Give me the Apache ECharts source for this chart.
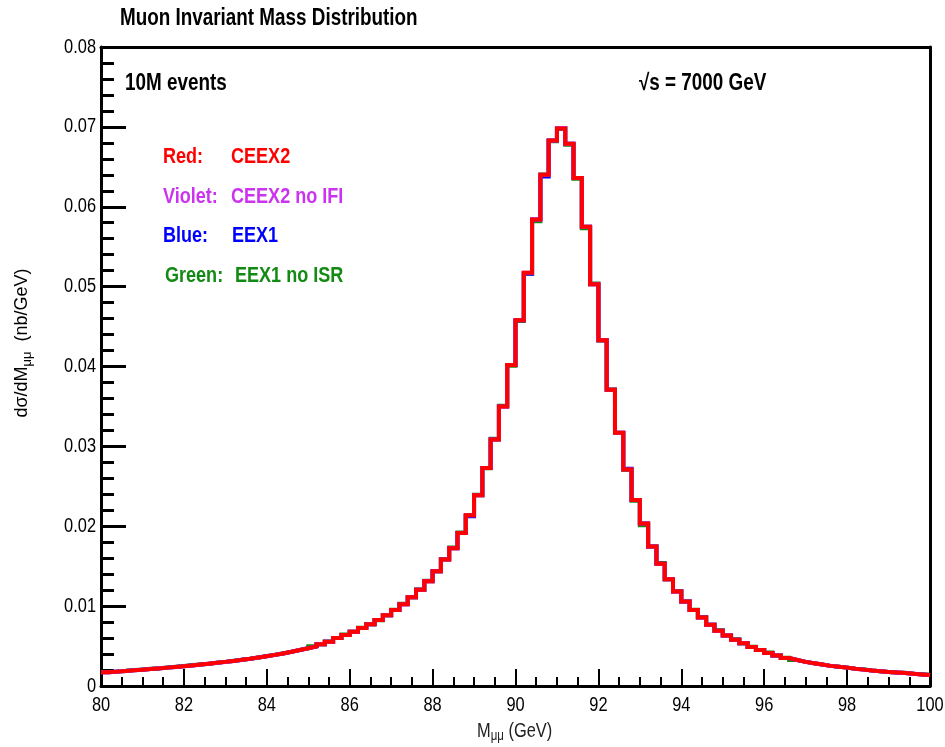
<!DOCTYPE html>
<html>
<head>
<meta charset="utf-8">
<script src="https://cdn.jsdelivr.net/npm/echarts@6/dist/echarts.min.js"></script>
<style>html,body{margin:0;padding:0;background:#fff}#c{width:945px;height:747px}</style>
</head>
<body>
<div id="c"></div>
<script>
// Histogram: 100 bins of 0.2 GeV from 80 to 100 GeV
var binStart = 80, binWidth = 0.2;
var xTicks = [80, 82, 84, 86, 88, 90, 92, 94, 96, 98, 100];
var yTicks = [0, 0.01, 0.02, 0.03, 0.04, 0.05, 0.06, 0.07, 0.08];
var yTickLabels = ['0', '0.01', '0.02', '0.03', '0.04', '0.05', '0.06', '0.07', '0.08'];

var red = [0.00172,0.00180,0.00188,0.00196,0.00204,0.00212,0.00220,0.00230,0.00238,0.00248,
0.00258,0.00268,0.00278,0.00290,0.00302,0.00314,0.00328,0.00340,0.00356,0.00372,
0.00390,0.00408,0.00428,0.00450,0.00472,0.00496,0.00524,0.00554,0.00600,0.00640,
0.00680,0.00725,0.00772,0.00825,0.00886,0.00953,0.01022,0.01112,0.01204,0.01312,
0.01438,0.01584,0.01726,0.01915,0.02138,0.02387,0.02730,0.03085,0.03500,0.04020,
0.04580,0.05175,0.05840,0.06400,0.06830,0.06980,0.06790,0.06360,0.05750,0.05030,
0.04330,0.03710,0.03170,0.02710,0.02330,0.02035,0.01747,0.01530,0.01338,0.01183,
0.01057,0.00953,0.00858,0.00768,0.00692,0.00633,0.00580,0.00535,0.00487,0.00451,
0.00414,0.00382,0.00351,0.00326,0.00302,0.00284,0.00268,0.00252,0.00242,0.00230,
0.00215,0.00205,0.00193,0.00184,0.00176,0.00168,0.00162,0.00152,0.00144,0.00138];

var violet = [0.00172,0.00181,0.00188,0.00196,0.00204,0.00212,0.00221,0.00230,0.00238,0.00248,
0.00258,0.00266,0.00278,0.00290,0.00300,0.00314,0.00326,0.00340,0.00356,0.00372,
0.00390,0.00408,0.00428,0.00450,0.00472,0.00496,0.00524,0.00554,0.00600,0.00640,
0.00680,0.00725,0.00772,0.00825,0.00886,0.00953,0.01022,0.01112,0.01204,0.01312,
0.01438,0.01584,0.01726,0.01915,0.02138,0.02387,0.02730,0.03085,0.03500,0.04020,
0.04580,0.05175,0.05840,0.06400,0.06830,0.06985,0.06790,0.06360,0.05750,0.05030,
0.04330,0.03710,0.03170,0.02710,0.02330,0.02035,0.01747,0.01530,0.01338,0.01183,
0.01057,0.00953,0.00858,0.00768,0.00692,0.00633,0.00580,0.00535,0.00487,0.00451,
0.00414,0.00382,0.00351,0.00326,0.00302,0.00284,0.00268,0.00252,0.00242,0.00230,
0.00215,0.00205,0.00193,0.00184,0.00176,0.00168,0.00162,0.00152,0.00144,0.00138];

var blue = [0.00172,0.00180,0.00188,0.00196,0.00204,0.00212,0.00220,0.00230,0.00238,0.00248,
0.00258,0.00268,0.00278,0.00290,0.00302,0.00314,0.00328,0.00340,0.00356,0.00372,
0.00390,0.00408,0.00428,0.00450,0.00472,0.00496,0.00524,0.00554,0.00600,0.00640,
0.00680,0.00725,0.00772,0.00825,0.00886,0.00953,0.01022,0.01112,0.01204,0.01312,
0.01438,0.01584,0.01726,0.01915,0.02125,0.02387,0.02730,0.03085,0.03500,0.04020,
0.04580,0.05160,0.05840,0.06380,0.06830,0.06980,0.06790,0.06360,0.05750,0.05030,
0.04330,0.03710,0.03170,0.02720,0.02330,0.02035,0.01747,0.01530,0.01338,0.01183,
0.01057,0.00953,0.00858,0.00768,0.00692,0.00633,0.00580,0.00535,0.00487,0.00451,
0.00414,0.00382,0.00351,0.00326,0.00302,0.00284,0.00268,0.00252,0.00242,0.00230,
0.00215,0.00205,0.00193,0.00184,0.00176,0.00168,0.00162,0.00152,0.00144,0.00138];

var green = [0.00175,0.00183,0.00190,0.00200,0.00206,0.00216,0.00222,0.00232,0.00242,0.00250,
0.00262,0.00270,0.00278,0.00292,0.00302,0.00316,0.00328,0.00342,0.00358,0.00376,
0.00392,0.00410,0.00428,0.00452,0.00472,0.00498,0.00524,0.00556,0.00600,0.00644,
0.00680,0.00728,0.00772,0.00822,0.00886,0.00956,0.01030,0.01112,0.01208,0.01318,
0.01438,0.01590,0.01734,0.01922,0.02138,0.02393,0.02725,0.03095,0.03508,0.04010,
0.04570,0.05165,0.05820,0.06405,0.06820,0.06980,0.06775,0.06350,0.05730,0.05040,
0.04325,0.03712,0.03168,0.02705,0.02318,0.02012,0.01747,0.01540,0.01338,0.01190,
0.01057,0.00955,0.00865,0.00768,0.00698,0.00633,0.00585,0.00535,0.00490,0.00451,
0.00418,0.00382,0.00355,0.00326,0.00302,0.00286,0.00268,0.00252,0.00242,0.00232,
0.00215,0.00210,0.00193,0.00186,0.00176,0.00168,0.00165,0.00152,0.00147,0.00140];

function toSteps(vals) {
  var pts = vals.map(function (v, i) { return [binStart + i * binWidth, v]; });
  pts.push([binStart + vals.length * binWidth, vals[vals.length - 1]]);
  return pts;
}

var SANS = "'Liberation Sans',Arial,Helvetica,sans-serif";
var NX = 0.82; // horizontal squeeze to mimic the narrow Helvetica of the original

function histSeries(name, vals, color, width, z) {
  return {
    name: name, type: 'line', step: 'end', data: toSteps(vals),
    symbol: 'none', silent: true, animation: false, z: z,
    lineStyle: { color: color, width: width, join: 'miter', cap: 'butt' }
  };
}

function txt(x, y, text, color, font) {
  return { type: 'text', x: x, y: y, scaleX: NX, z: 100,
    style: { text: text, fill: color, font: font, align: 'left', verticalAlign: 'middle' } };
}

var chart = echarts.init(document.getElementById('c'), null, { renderer: 'canvas' });
var baseGraphic = [
  txt(120, 19, 'Muon Invariant Mass Distribution', '#000', 'bold 23px ' + SANS),
  txt(125, 84, '10M events', '#000', 'bold 23px ' + SANS),
  txt(639, 84, '\u221As = 7000 GeV', '#000', 'bold 23px ' + SANS),
  txt(163, 157, 'Red:', '#ff0000', 'bold 22px ' + SANS),
  txt(231, 157, 'CEEX2', '#ff0000', 'bold 22px ' + SANS),
  txt(163, 197, 'Violet:', '#cc33ee', 'bold 22px ' + SANS),
  txt(231, 197, 'CEEX2 no IFI', '#cc33ee', 'bold 22px ' + SANS),
  txt(163, 236, 'Blue:', '#0000ff', 'bold 22px ' + SANS),
  txt(232, 236, 'EEX1', '#0000ff', 'bold 22px ' + SANS),
  txt(165, 276, 'Green:', '#138a13', 'bold 22px ' + SANS),
  txt(235, 276, 'EEX1 no ISR', '#138a13', 'bold 22px ' + SANS),
  { type: 'text', x: 22, y: 343, rotation: Math.PI / 2,
    style: { text: '{a|d\u03C3/dM}{s|\u03BC\u03BC}{a|  (nb/GeV)}', align: 'center', verticalAlign: 'middle',
      rich: { a: { fontFamily: SANS, fontSize: 18, fill: '#000', color: '#000' },
              s: { fontFamily: SANS, fontSize: 13, fill: '#000', color: '#000', padding: [10, 0, 0, 0] } } } },
  { type: 'text', x: 477, y: 731, scaleX: NX,
    style: { text: '{a|M}{s|\u03BC\u03BC}{a| (GeV)}', verticalAlign: 'middle',
      rich: { a: { fontFamily: SANS, fontSize: 20, fill: '#222', color: '#222' },
              s: { fontFamily: SANS, fontSize: 14, fill: '#222', color: '#222', padding: [10, 0, 0, 0] } } } }
];

var option = {
  backgroundColor: '#ffffff',
  animation: false,
  grid: { left: 101, right: 15, top: 47, bottom: 61, containLabel: false, outerBoundsMode: 'none' },
  xAxis: [{
    type: 'value', min: 80, max: 100, interval: 2,
    axisLine: { show: true, onZero: false, lineStyle: { color: '#000', width: 3 } },
    axisTick: { show: true, inside: true, length: 17, lineStyle: { color: '#000', width: 2 } },
    minorTick: { show: true, splitNumber: 4, length: 9, lineStyle: { color: '#000', width: 2 } },
    axisLabel: { show: false },
    splitLine: { show: false }
  }, {
    type: 'value', min: 80, max: 100, position: 'top',
    axisLine: { show: true, onZero: false, lineStyle: { color: '#000', width: 3 } },
    axisTick: { show: false }, axisLabel: { show: false }, splitLine: { show: false }
  }],
  yAxis: [{
    type: 'value', min: 0, max: 0.08, interval: 0.01,
    axisLine: { show: true, onZero: false, lineStyle: { color: '#000', width: 3 } },
    axisTick: { show: true, inside: true, length: 25, lineStyle: { color: '#000', width: 3 } },
    minorTick: { show: true, splitNumber: 5, length: 13, lineStyle: { color: '#000', width: 3 } },
    axisLabel: { show: false },
    splitLine: { show: false }
  }, {
    type: 'value', min: 0, max: 0.08, position: 'right',
    axisLine: { show: true, onZero: false, lineStyle: { color: '#000', width: 3 } },
    axisTick: { show: false }, axisLabel: { show: false }, splitLine: { show: false }
  }],
  series: [
    histSeries('EEX1 no ISR', green, '#138a13', 4, 2),
    histSeries('EEX1', blue, '#0000ff', 4, 3),
    histSeries('CEEX2 no IFI', violet, '#cc33ee', 4, 4),
    histSeries('CEEX2', red, '#ff0000', 4, 5)
  ],
  graphic: baseGraphic
};
chart.setOption(option);

// Tick labels placed through the axes' own scales, drawn narrow like the original
var tickGraphic = [];
var x0px = chart.convertToPixel({ xAxisIndex: 0 }, xTicks[0]);
var y0px = chart.convertToPixel({ yAxisIndex: 0 }, 0);
var y0 = chart.convertToPixel({ xAxisIndex: 0 }, 80);
xTicks.forEach(function (v) {
  var px = chart.convertToPixel({ xAxisIndex: 0 }, v);
  tickGraphic.push({ type: 'text', x: px, y: y0px + 19, scaleX: NX, z: 100,
    style: { text: String(v), fill: '#000', font: '20px ' + SANS, align: 'center', verticalAlign: 'middle' } });
});
yTicks.forEach(function (v, i) {
  var py = chart.convertToPixel({ yAxisIndex: 0 }, v);
  tickGraphic.push({ type: 'text', x: x0px - 5, y: py, scaleX: NX, z: 100,
    style: { text: yTickLabels[i], fill: '#000', font: '20px ' + SANS, align: 'right', verticalAlign: 'middle' } });
});
chart.setOption({ graphic: baseGraphic.concat(tickGraphic) });
</script>
</body>
</html>
